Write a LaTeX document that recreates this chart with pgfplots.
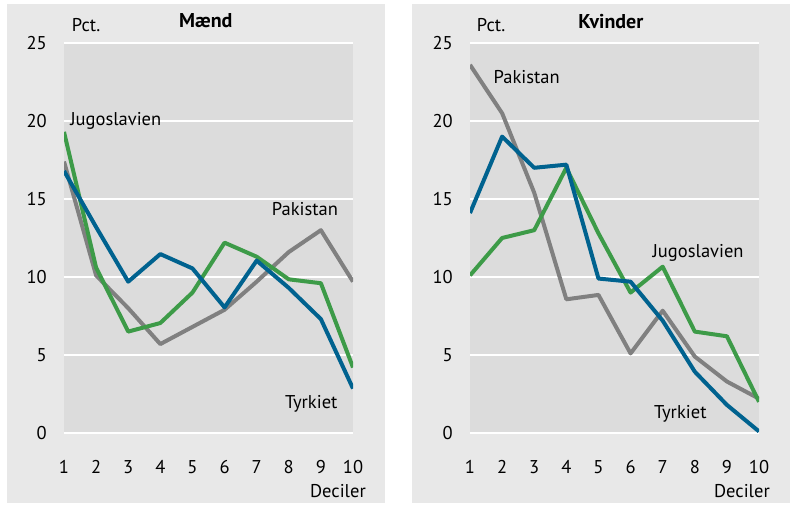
\documentclass[border=0pt]{standalone}
\usepackage{pgfplots}
\pgfplotsset{compat=1.18}
\usepackage{fontspec}
\setmainfont{PT Sans}
\definecolor{outerbg}{HTML}{E8E8E8}
\definecolor{plotbg}{HTML}{DCDCDC}
\definecolor{cgreen}{HTML}{3D9B48}
\definecolor{cblue}{HTML}{00628F}
\definecolor{cgray}{HTML}{808080}
\newcommand{\ff}{\fontsize{18.5bp}{22bp}\selectfont}
\newcommand{\tf}{\fontsize{20bp}{24bp}\selectfont\bfseries}
\tikzset{lbl/.style={font=\ff, inner sep=0pt, anchor=base west}}
\pgfplotsset{myaxis/.style={
  width=289bp, height=390bp, scale only axis,
  xmin=1, xmax=10, ymin=0, ymax=25,
  xtick={1,...,10}, ytick={0,5,...,25},
  axis line style={draw=none},
  major tick length=0pt,
  ymajorgrids, grid style={white, line width=2bp},
  axis background/.style={fill=plotbg},
  clip mode=individual,
  /pgf/number format/assume math mode=true,
  tick label style={font=\ff},
  xticklabel style={anchor=base, yshift=-41bp},
  yticklabel style={anchor=east, inner sep=0pt, xshift=-17bp},
  every axis plot/.append style={line width=4bp, line join=round, mark=none},
}}
\begin{document}
\begin{tikzpicture}[x=1bp,y=1bp,font=\ff]
\path[use as bounding box] (0,0) rectangle (792,505);
\fill[outerbg] (7,2) rectangle (385,501);
\fill[outerbg] (412,2) rectangle (790,501);

\begin{axis}[myaxis, at={(64bp,72bp)}, anchor=south west]
\addplot[cgray] coordinates {(1,17.4) (2,10.1) (3,8.0) (4,5.7) (5,6.8) (6,7.9) (7,9.7) (8,11.6) (9,13.0) (10,9.7)};
\addplot[cgreen] coordinates {(1,19.3) (2,10.6) (3,6.5) (4,7.05) (5,9.0) (6,12.2) (7,11.3) (8,9.85) (9,9.6) (10,4.2)};
\addplot[cblue] coordinates {(1,16.8) (2,13.2) (3,9.7) (4,11.47) (5,10.55) (6,8.05) (7,11.05) (8,9.3) (9,7.3) (10,2.85)};
\node[lbl] at (axis cs:1.19,19.74) {Jugoslavien};
\node[lbl] at (axis cs:7.47,13.97) {Pakistan};
\node[lbl] at (axis cs:7.88,1.58) {Tyrkiet};
\end{axis}

\begin{axis}[myaxis, at={(470bp,72bp)}, anchor=south west]
\addplot[cgray] coordinates {(1,23.6) (2,20.5) (3,15.4) (4,8.57) (5,8.85) (6,5.1) (7,7.84) (8,4.9) (9,3.3) (10,2.2)};
\addplot[cgreen] coordinates {(1,10.1) (2,12.5) (3,13.0) (4,17.0) (5,12.8) (6,9.0) (7,10.66) (8,6.5) (9,6.2) (10,2.0)};
\addplot[cblue] coordinates {(1,14.1) (2,19.0) (3,17.0) (4,17.2) (5,9.9) (6,9.7) (7,7.2) (8,3.93) (9,1.8) (10,0.1)};
\node[lbl] at (axis cs:1.73,22.42) {Pakistan};
\node[lbl] at (axis cs:6.68,11.26) {Jugoslavien};
\node[lbl] at (axis cs:6.73,0.94) {Tyrkiet};
\end{axis}

\node[inner sep=0pt, anchor=base west] at (71.7,473.5) {Pct.};
\node[inner sep=0pt, anchor=base, font=\tf] at (205.8,477) {Mænd};
\node[inner sep=0pt, anchor=base east] at (366,7) {Deciler};
\node[inner sep=0pt, anchor=base west] at (476.7,473.3) {Pct.};
\node[inner sep=0pt, anchor=base, font=\tf] at (610.8,476.7) {Kvinder};
\node[inner sep=0pt, anchor=base east] at (770,7) {Deciler};
\end{tikzpicture}
\end{document}
